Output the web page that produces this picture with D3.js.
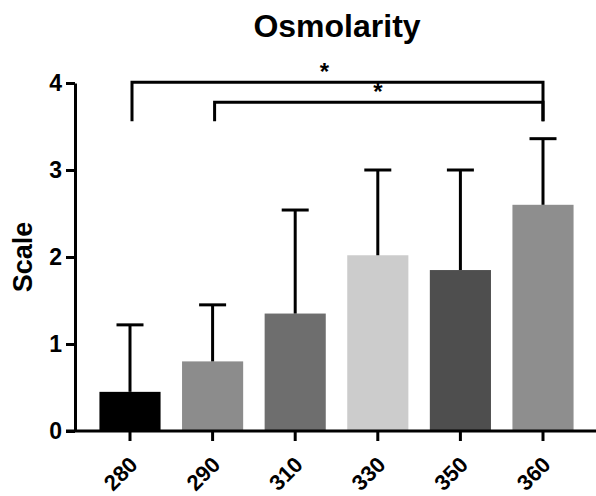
<!DOCTYPE html>
<meta charset="utf-8">
<style>
body { margin: 0; background: #fff; }
text { font-family: "Liberation Sans", Arial, sans-serif; font-weight: bold; fill: #000; }
</style>
<svg width="596" height="496"></svg>
<script src="https://d3js.org/d3.v7.min.js"></script>
<script>

let categories = ['280', '290', '310', '330', '350', '360'];
let means = [0.45, 0.80, 1.35, 2.02, 1.85, 2.60];
let errors = [0.77, 0.65, 1.19, 0.98, 1.15, 0.76];
let colors = ['#000000', '#8c8c8c', '#6e6e6e', '#cccccc', '#4e4e4e', '#8e8e8e'];
let yTicks = [0, 1, 2, 3, 4];
// significance brackets: [from, to, bracket level, leg bottom]
let brackets = [
  { from: '280', to: '360', level: 4.01, foot: 3.56, label: '*', shift: -12 },
  { from: '290', to: '360', level: 3.78, foot: 3.56, label: '*', shift: 0 }
];

let svg = d3.select('svg');

let x = d3.scaleBand()
  .domain(categories)
  .range([88.7, 584.3])
  .paddingInner(0.26)
  .paddingOuter(0.13);

let y = d3.scaleLinear()
  .domain([0, 4])
  .range([431, 83]);

// title
svg.append('text')
  .attr('x', 337)
  .attr('y', 37)
  .attr('text-anchor', 'middle')
  .style('font-size', '32px')
  .text('Osmolarity');

// y label
svg.append('text')
  .attr('transform', 'translate(32,257) rotate(-90)')
  .attr('text-anchor', 'middle')
  .style('font-size', '27px')
  .text('Scale');

// bars
svg.selectAll('rect.bar')
  .data(categories)
  .enter().append('rect')
    .attr('class', 'bar')
    .attr('x', d => x(d))
    .attr('width', x.bandwidth())
    .attr('y', (d, i) => y(means[i]))
    .attr('height', (d, i) => y(0) - y(means[i]))
    .attr('fill', (d, i) => colors[i]);

// error bars
let eb = svg.selectAll('g.err')
  .data(categories)
  .enter().append('g')
    .attr('class', 'err')
    .attr('stroke', '#000')
    .attr('stroke-width', 3);

eb.append('line')
  .attr('x1', d => x(d) + x.bandwidth() / 2)
  .attr('x2', d => x(d) + x.bandwidth() / 2)
  .attr('y1', (d, i) => y(means[i]))
  .attr('y2', (d, i) => y(means[i] + errors[i]));

eb.append('line')
  .attr('x1', d => x(d) + x.bandwidth() / 2 - 13.5)
  .attr('x2', d => x(d) + x.bandwidth() / 2 + 13.5)
  .attr('y1', (d, i) => y(means[i] + errors[i]))
  .attr('y2', (d, i) => y(means[i] + errors[i]));

// y axis
let yAxis = svg.append('g')
  .attr('transform', 'translate(75,0)')
  .call(d3.axisLeft(y).tickValues(yTicks).tickFormat(d3.format('d')).tickSize(9).tickSizeOuter(0));
yAxis.select('.domain').attr('stroke-width', 3);
yAxis.selectAll('.tick line').attr('stroke-width', 3);
yAxis.selectAll('.tick text')
  .attr('x', -13)
  .style('font-size', '23px')
  .style('font-family', '"Liberation Sans", Arial, sans-serif');

// x axis
let xAxis = svg.append('g')
  .attr('transform', 'translate(0,431)')
  .call(d3.axisBottom(x).tickSize(10).tickSizeOuter(0));
xAxis.select('.domain').attr('d', 'M66,0H596').attr('stroke-width', 3);
xAxis.selectAll('.tick line').attr('stroke-width', 3);
xAxis.selectAll('.tick text')
  .attr('text-anchor', 'end')
  .attr('transform', 'translate(9,35) rotate(-45)')
  .attr('x', 0)
  .attr('y', 0)
  .attr('dy', 0)
  .style('font-size', '22px')
  .style('font-family', '"Liberation Sans", Arial, sans-serif');

// significance brackets
let cx = d => x(d) + x.bandwidth() / 2;
brackets.forEach(b => {
  svg.append('path')
    .attr('d', 'M' + (cx(b.from) + 2) + ',' + y(b.foot) +
      'V' + y(b.level) + 'H' + cx(b.to) + 'V' + y(b.foot))
    .attr('fill', 'none')
    .attr('stroke', '#000')
    .attr('stroke-width', 3);
  svg.append('text')
    .attr('x', (cx(b.from) + cx(b.to)) / 2 + b.shift)
    .attr('y', y(b.level) - 2)
    .attr('text-anchor', 'middle')
    .style('font-size', '24px')
    .text(b.label);
});

</script>
